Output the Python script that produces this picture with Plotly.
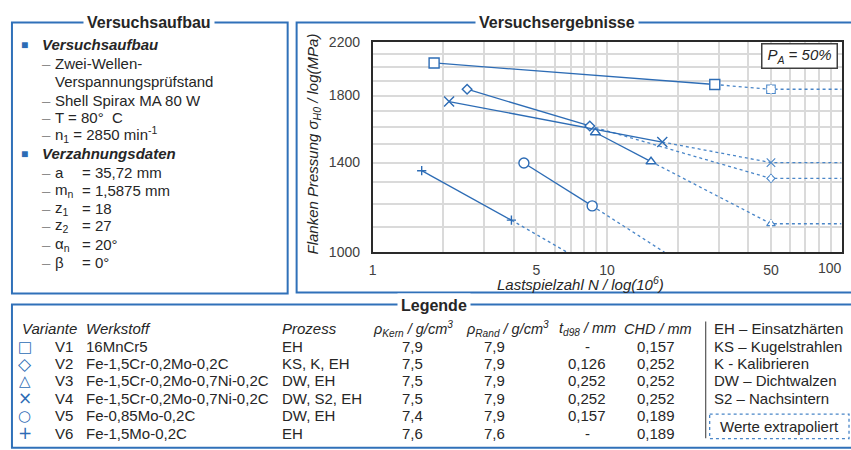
import math
import plotly.graph_objects as go

# ---------------------------------------------------------------- data
# Test results (load cycles in 10^6, flank pressure in MPa)
v1_n = [1.83, 28.8]
v1_s = [2034, 1876]
v2_n = [2.53, 8.44]
v2_s = [1843, 1606]
v3_n = [8.92, 15.4]
v3_s = [1567, 1405]
v4_n = [2.12, 17.2]
v4_s = [1760, 1512]
v5_n = [4.42, 8.64]
v5_s = [1398, 1190]
v6_n = [1.62, 3.91]
v6_s = [1358, 1128]

# Extrapolated values (from last test point to N = 50, then held constant)
v1_ext_n = [28.8, 50, 100]
v1_ext_s = [1876, 1843, 1843]
v2_ext_n = [8.44, 50, 100]
v2_ext_s = [1606, 1319, 1319]
v3_ext_n = [15.4, 50, 100]
v3_ext_s = [1405, 1113, 1113]
v4_ext_n = [17.2, 50, 100]
v4_ext_s = [1512, 1400, 1400]
v5_ext_n = [8.64, 17.6]
v5_ext_s = [1190, 1000]
v6_ext_n = [3.91, 6.76]
v6_ext_s = [1128, 1000]

# Axis ticks (the last x label sits at the right frame and is drawn separately)
x_tickvals = [1, 2, 3, 4, 5, 6, 7, 8, 9, 10, 20, 30, 40, 50, 60, 70, 80, 90, 100]
x_ticklabels = ["1", "", "", "", "5", "", "", "", "", "10", "", "", "", "50", "", "", "", "", "100"]
y_tickvals = [1000, 1100, 1200, 1300, 1400, 1500, 1600, 1700, 1800, 1900, 2000, 2100, 2200]
y_ticklabels = ["1000", "", "", "", "1400", "", "", "", "1800", "", "", "", "2200"]

# Legend table
variants = ["V1", "V2", "V3", "V4", "V5", "V6"]
legend_glyphs = ["□", "◇", "△", "×", "○", "+"]
legend_glyph_sizes = [15, 17, 15, 17, 15, 17]
materials = ["16MnCr5", "Fe-1,5Cr-0,2Mo-0,2C", "Fe-1,5Cr-0,2Mo-0,7Ni-0,2C",
             "Fe-1,5Cr-0,2Mo-0,7Ni-0,2C", "Fe-0,85Mo-0,2C", "Fe-1,5Mo-0,2C"]
processes = ["EH", "KS, K, EH", "DW, EH", "DW, S2, EH", "DW, EH", "EH"]
rho_core = ["7,9", "7,5", "7,5", "7,5", "7,4", "7,6"]
rho_rim = ["7,9", "7,9", "7,9", "7,9", "7,9", "7,6"]
td98 = ["-", "0,126", "0,252", "0,252", "0,157", "-"]
chd = ["0,157", "0,252", "0,252", "0,252", "0,189", "0,189"]
abbreviations = ["EH – Einsatzhärten", "KS – Kugelstrahlen", "K - Kalibrieren",
                 "DW – Dichtwalzen", "S2 – Nachsintern"]

# Test setup list
setup_items = ["Zwei-Wellen-", "Verspannungsprüfstand", "Shell Spirax MA 80 W",
               "T = 80°&nbsp; C", "n<sub>1</sub> = 2850 min<sup>-1</sup>"]
gear_names = ["a", "m<sub>n</sub>", "z<sub>1</sub>", "z<sub>2</sub>", "α<sub>n</sub>", "β"]
gear_values = ["= 35,72 mm", "= 1,5875 mm", "= 18", "= 27", "= 20°", "= 0°"]

# ---------------------------------------------------------------- styling
W, H = 851, 450
BLUE = "#2d6cb5"
BLUE_EXT = "#4a86c8"
FRAME = "#3071b9"
TXT = "#262626"
FONT = "Liberation Sans, Arial, sans-serif"


def fx(px):
    return px / W


def fy(py):
    return 1 - py / H


fig = go.Figure()

series = [
    (v1_n, v1_s, v1_ext_n, v1_ext_s, "square", 10),
    (v2_n, v2_s, v2_ext_n, v2_ext_s, "diamond", 7.4),
    (v3_n, v3_s, v3_ext_n, v3_ext_s, "triangle-up", 8.8),
    (v4_n, v4_s, v4_ext_n, v4_ext_s, "x-thin", 10),
    (v5_n, v5_s, v5_ext_n, v5_ext_s, "circle", 10),
    (v6_n, v6_s, v6_ext_n, v6_ext_s, "cross-thin", 6.6),
]

# dotted extrapolation lines
for n, s, en, es, sym, size in series:
    fig.add_trace(go.Scatter(x=en, y=es, mode="lines",
                             line=dict(color=BLUE_EXT, width=1.3, dash="dot"),
                             hoverinfo="skip", showlegend=False))

# measured values
for n, s, en, es, sym, size in series:
    open_sym = sym.endswith("thin")
    fig.add_trace(go.Scatter(
        x=n, y=s, mode="lines+markers",
        line=dict(color=BLUE, width=1.3),
        marker=dict(symbol=sym, size=size,
                    color=BLUE if open_sym else "white",
                    line=dict(color=BLUE, width=1.4)),
        showlegend=False))

# extrapolated points at N = 50 (thin, broken outline)
for n, s, en, es, sym, size in series[:4]:
    open_sym = sym.endswith("thin")
    fig.add_trace(go.Scatter(
        x=en[1:2], y=es[1:2], mode="markers",
        marker=dict(symbol=sym, size=size * 0.85,
                    color=BLUE_EXT if open_sym else "white",
                    line=dict(color=BLUE_EXT, width=1.1)),
        showlegend=False))
    if not open_sym:
        gap = "cross-thin" if sym == "square" else "line-ns"
        fig.add_trace(go.Scatter(
            x=en[1:2], y=es[1:2], mode="markers",
            marker=dict(symbol=gap, size=size * 0.6,
                        line=dict(color="white", width=2.2)),
            showlegend=False, hoverinfo="skip"))

# ---------------------------------------------------------------- axes
TICKFONT = dict(family=FONT, size=14, color="#404040")
axis_common = dict(type="log", showgrid=True, gridcolor="#dadada", gridwidth=1.5,
                   showline=True, mirror=True, linecolor="#2a2a2a", linewidth=1.5,
                   ticks="", zeroline=False, tickfont=TICKFONT)
fig.update_xaxes(**axis_common, range=[0, 2], tickmode="array",
                 tickvals=x_tickvals, ticktext=x_ticklabels[:-1] + [""],
                 domain=[fx(370.3), fx(841.5)], ticklabelstandoff=4)
fig.update_yaxes(**axis_common, range=[3, 3.3424], tickmode="array",
                 tickvals=y_tickvals, ticktext=y_ticklabels,
                 domain=[fy(253.3), fy(35.3)], ticklabelstandoff=8)

# ---------------------------------------------------------------- panels
shapes = []
for x0, y0, x1, y1 in [(8, 15, 285, 296), (294, 15, 856, 295), (8, 307.5, 856, 456)]:
    shapes.append(dict(type="rect", xref="paper", yref="paper",
                       x0=fx(x0), y0=fy(y0), x1=fx(x1), y1=fy(y1),
                       line=dict(color=FRAME, width=2), layer="below"))
# separator in the legend panel
shapes.append(dict(type="line", xref="paper", yref="paper",
                   x0=fx(705), x1=fx(705), y0=fy(325), y1=fy(446),
                   line=dict(color="#555555", width=1.2)))
# box for the extrapolation note
shapes.append(dict(type="rect", xref="paper", yref="paper",
                   x0=fx(709), x1=fx(849), y0=fy(421), y1=fy(446.5),
                   line=dict(color=BLUE_EXT, width=1.3, dash="dot")))

ann = []


def text(x, y, s, size=15, color=TXT, xanchor="left", family=FONT, **kw):
    ann.append(dict(x=fx(x), y=fy(y), xref="paper", yref="paper", text=s,
                    showarrow=False, xanchor=xanchor, yanchor="middle",
                    font=dict(family=family, size=size, color=color), **kw))


# last x tick label, kept inside the page at the right frame
ann.append(dict(x=math.log10(x_tickvals[-1]), xref="x", y=fy(270), yref="paper",
                text=x_ticklabels[-1], showarrow=False, xanchor="right", xshift=2,
                yanchor="middle", font=TICKFONT))

# panel titles
text(146, 15.5, "<b>Versuchsaufbau</b>", size=16, xanchor="center",
     bgcolor="white", borderpad=3)
text(556, 15.5, "<b>Versuchsergebnisse</b>", size=16, xanchor="center",
     bgcolor="white", borderpad=3)
text(432, 308, "<b>Legende</b>", size=16, xanchor="center",
     bgcolor="white", borderpad=3)

# test setup panel
text(21, 38.5, "■", size=12, color=BLUE, xanchor="center")
text(36, 38.3, "<b><i>Versuchsaufbau</i></b>")
setup_y = [57.3, 76, 95.7, 113.3, 131.3]
for i, (yy, s) in enumerate(zip(setup_y, setup_items)):
    if i != 1:
        text(36, yy, "–", color="#8c8c8c")
    text(49, yy, s)
text(21, 151, "■", size=12, color=BLUE, xanchor="center")
text(36, 150.7, "<b><i>Verzahnungsdaten</i></b>")
gear_y = [170.5, 189, 207.5, 226, 245, 264]
for yy, name, val in zip(gear_y, gear_names, gear_values):
    text(36, yy, "–", color="#8c8c8c")
    text(49, yy, name)
    text(76, yy, val)

# chart annotations
text(579, 285.5, "<i>Lastspielzahl N / log(10<sup>6</sup>)</i>", xanchor="center")
ann.append(dict(x=fx(311), y=fy(141), xref="paper", yref="paper",
                text="<i>Flanken Pressung σ<sub>H0</sub> / log(MPa)</i>",
                showarrow=False, textangle=-90, xanchor="center", yanchor="middle",
                font=dict(family=FONT, size=15, color=TXT)))
ann.append(dict(x=fx(799.5), y=fy(50), xref="paper", yref="paper",
                text="<i>P<sub>A</sub> = 50%</i>", showarrow=False,
                xanchor="center", yanchor="middle", width=70, height=19,
                bgcolor="white", bordercolor="#404040", borderwidth=1.5, borderpad=2,
                font=dict(family=FONT, size=15, color=TXT)))

# legend table
hy = 332.7
text(16, hy, "<i>Variante</i>")
text(80, hy, "<i>Werkstoff</i>")
text(277, hy, "<i>Prozess</i>")
text(369, hy, "<i>ρ<sub>Kern</sub> / g/cm<sup>3</sup></i>", size=14.5)
text(462, hy, "<i>ρ<sub>Rand</sub> / g/cm<sup>3</sup></i>", size=14.5)
text(556, hy, "<i>t<sub>d98</sub> / mm</i>", size=14.5)
text(621, hy, "<i>CHD / mm</i>", size=14.5)

row_y = [351, 369, 386.7, 404.5, 422.7, 440.7]
for i, yy in enumerate(row_y):
    text(21, yy, legend_glyphs[i], size=legend_glyph_sizes[i], color=BLUE,
         xanchor="center", family="DejaVu Sans", height=16)
    text(71, yy, variants[i], xanchor="right")
    text(80, yy, materials[i])
    text(277, yy, processes[i])
    text(410.5, yy, rho_core[i], xanchor="center")
    text(493, yy, rho_rim[i], xanchor="center")
    text(586, yy, td98[i], xanchor="center")
    text(655, yy, chd[i], xanchor="center")

abbr_y = [332.7, 351, 369, 386.7, 404.5]
for yy, s in zip(abbr_y, abbreviations):
    text(711, yy, s)
text(779, 433.5, "Werte extrapoliert", xanchor="center")

fig.update_layout(
    width=W, height=H, margin=dict(l=0, r=0, t=0, b=0),
    paper_bgcolor="white", plot_bgcolor="white",
    font=dict(family=FONT, color=TXT),
    showlegend=False, shapes=shapes, annotations=ann,
)

fig.write_html("out.html")
